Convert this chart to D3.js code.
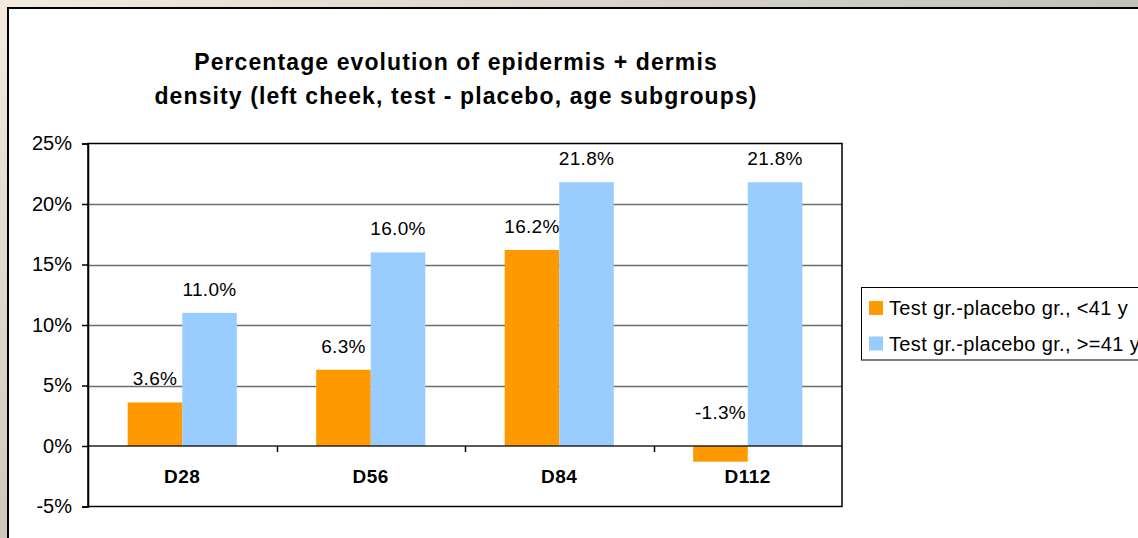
<!DOCTYPE html>
<html><head><meta charset="utf-8">
<script src="https://cdn.jsdelivr.net/npm/d3@7"></script>
<style>
html,body{margin:0;padding:0;overflow:hidden;background:#fff;}
text{font-family:Arial,"Liberation Sans",sans-serif;}
</style></head>
<body><svg id="c" width="1138" height="538"></svg>
<script>
const categories = ["D28","D56","D84","D112"];
const seriesNames = ["Test gr.-placebo gr., <41 y","Test gr.-placebo gr., >=41 y"];
const under41 = [3.6, 6.3, 16.2, -1.3];
const over41 = [11.0, 16.0, 21.8, 21.8];
const yTicks = [-5, 0, 5, 10, 15, 20, 25];
const titleLines = ["Percentage evolution of epidermis + dermis","density (left cheek, test - placebo, age subgroups)"];
const colors = ["#ff9900","#99ccff"];

const svg = d3.select("#c");
const defs = svg.append("defs");
const g1 = defs.append("linearGradient").attr("id","bg").attr("x1","0").attr("y1","0").attr("x2","1").attr("y2","0.5");
g1.append("stop").attr("offset","0").attr("stop-color","#f4eadf");
g1.append("stop").attr("offset","1").attr("stop-color","#b3b8b0");
const g2 = defs.append("linearGradient").attr("id","bgl").attr("x1","0").attr("y1","0").attr("x2","0").attr("y2","1");
g2.append("stop").attr("offset","0").attr("stop-color","#f4eadf");
g2.append("stop").attr("offset","1").attr("stop-color","#cdc8bd");
svg.append("rect").attr("width",1138).attr("height",538).attr("fill","url(#bg)");
svg.append("rect").attr("width",8).attr("height",538).attr("fill","url(#bgl)");
svg.append("rect").attr("x",8).attr("y",8).attr("width",1140).attr("height",540)
  .attr("fill","#fff").attr("stroke","#000").attr("stroke-width",2);

const L=88, R=842, T=143.5, B=506.5;
const y = d3.scaleLinear().domain([-5,25]).range([B,T]);
const x0 = d3.scaleBand().domain(categories).range([L,R]).padding(0);
const gap = x0.bandwidth()*0.421;
const x1 = d3.scaleBand().domain([0,1]).range([gap/2, x0.bandwidth()-gap/2]).padding(0);

// gridlines
svg.append("g").selectAll("line").data(yTicks.filter(t=>t!==-5 && t!==25 && t!==0)).join("line")
  .attr("x1",L).attr("x2",R).attr("y1",d=>Math.round(y(d))+0.5).attr("y2",d=>Math.round(y(d))+0.5)
  .attr("stroke","#6e6e6e").attr("stroke-width",1.5);

// bars
const data = categories.map((c,i)=>({c, vals:[under41[i], over41[i]]}));
const grp = svg.append("g").selectAll("g").data(data).join("g")
  .attr("transform",d=>`translate(${x0(d.c)},0)`);
grp.selectAll("rect").data(d=>d.vals.map((v,k)=>({v,k}))).join("rect")
  .attr("x",d=>x1(d.k)).attr("width",x1.bandwidth())
  .attr("y",d=>y(Math.max(0,d.v))).attr("height",d=>Math.abs(y(d.v)-y(0)))
  .attr("fill",d=>colors[d.k]);
grp.selectAll("text").data(d=>d.vals.map((v,k)=>({v,k}))).join("text")
  .attr("x",d=>x1(d.k)+x1.bandwidth()/2)
  .attr("y",d=>d.v>=0 ? y(d.v)-17 : y(0)-27)
  .attr("text-anchor","middle").attr("font-size",19).attr("letter-spacing",0.3).attr("fill","#000")
  .text(d=>d.v.toFixed(1)+"%");

// zero line
svg.append("line").attr("x1",L).attr("x2",R).attr("y1",y(0)).attr("y2",y(0)).attr("stroke","#222").attr("stroke-width",1.5);

// plot frame
svg.append("rect").attr("x",L).attr("y",T).attr("width",R-L).attr("height",B-T)
  .attr("fill","none").attr("stroke","#000").attr("stroke-width",1.5);

// y axis
const ya = svg.append("g").attr("transform",`translate(${L},0)`)
  .call(d3.axisLeft(y).tickValues(yTicks).tickSize(6).tickPadding(10).tickFormat(d=>d+"%"));
ya.select(".domain").attr("stroke","#000").attr("stroke-width",1.5);
ya.selectAll(".tick line").attr("stroke","#000").attr("stroke-width",1.5);
ya.selectAll("text").attr("font-size",20).attr("fill","#000").attr("font-family","Arial, 'Liberation Sans', sans-serif");

// category ticks
svg.append("g").selectAll("line").data(categories.slice(1)).join("line")
  .attr("x1",d=>Math.round(x0(d))+0.5).attr("x2",d=>Math.round(x0(d))+0.5)
  .attr("y1",y(0)).attr("y2",y(0)+6).attr("stroke","#000").attr("stroke-width",1.5);
svg.append("g").selectAll("text").data(categories).join("text")
  .attr("x",d=>x0(d)+x0.bandwidth()/2).attr("y",483)
  .attr("text-anchor","middle").attr("font-size",19).attr("font-weight","bold").attr("letter-spacing",0.5).attr("fill","#000")
  .text(d=>d);

// title
svg.append("g").selectAll("text").data(titleLines).join("text")
  .attr("x",456).attr("y",(d,i)=>70+i*34).attr("text-anchor","middle")
  .attr("font-size",23).attr("letter-spacing",1.1).attr("font-weight","bold").attr("fill","#000").text(d=>d);

// legend
const lg = svg.append("g");
lg.append("rect").attr("x",861.5).attr("y",287.5).attr("width",300).attr("height",72.5)
  .attr("fill","#fff").attr("stroke","#000").attr("stroke-width",1);
const li = lg.selectAll("g").data(seriesNames).join("g")
  .attr("transform",(d,i)=>`translate(869,${301+i*35.5})`);
li.append("rect").attr("width",14).attr("height",14).attr("fill",(d,i)=>colors[i]);
li.append("text").attr("x",20).attr("y",14).attr("font-size",20).attr("letter-spacing",0.35).attr("fill","#000").text(d=>d);
</script></body></html>
